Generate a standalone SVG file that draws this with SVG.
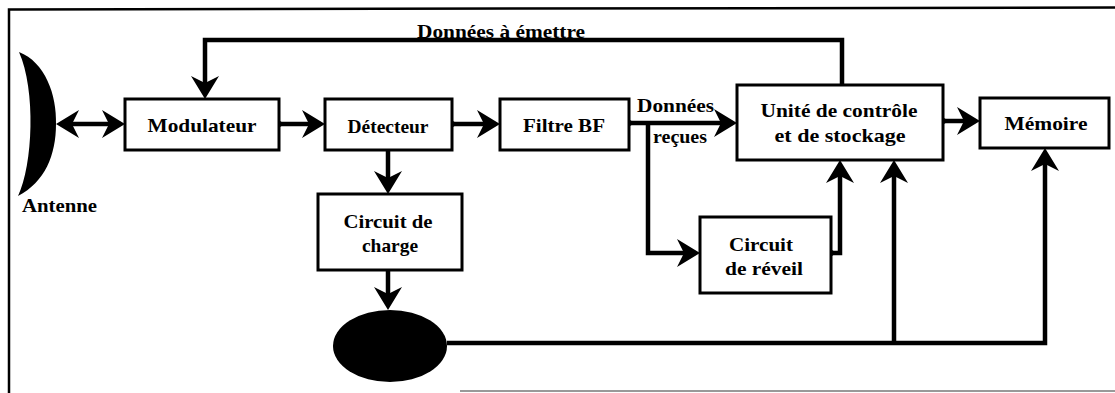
<svg xmlns="http://www.w3.org/2000/svg" width="1115" height="393" viewBox="0 0 1115 393">
  <style>
    .box { fill: #fff; stroke: #000; stroke-width: 3; }
    .wire { fill: none; stroke: #000; stroke-width: 4.5; stroke-linejoin: miter; }
    .arr { marker-end: url(#ah); }
    .lbl { font-family: "Liberation Serif", "Times New Roman", serif; font-size: 19.5px; font-weight: bold; fill: #000; text-anchor: middle; }
    .lbl-l { font-family: "Liberation Serif", "Times New Roman", serif; font-size: 19.5px; font-weight: bold; fill: #000; }
    .dot { fill: #000; }
  </style>
  <defs>
    <!-- dart-shaped arrowhead; the wire stops at the notch, the tip sits 16 px further on -->
    <marker id="ah" markerUnits="userSpaceOnUse" markerWidth="36" markerHeight="36" viewBox="-10 -18 36 36" refX="0" refY="0" orient="auto-start-reverse">
      <path d="M16,0 L-7,-14 L0,0 L-7,14 Z" fill="#000"/>
    </marker>
  </defs>

  <rect width="1115" height="393" fill="#fff"/>

  <!-- frame -->
  <g id="frame" fill="none" stroke="#000">
    <path d="M9,393 V9.5 L1115,7.5" stroke-width="2.5"/>
    <path d="M460,391 H1115" stroke="#999" stroke-width="2"/>
  </g>

  <!-- connectors -->
  <g id="connectors">
    <line class="wire" x1="72" y1="124" x2="109" y2="124" marker-start="url(#ah)" marker-end="url(#ah)"/>
    <line class="wire arr" x1="279" y1="124" x2="309" y2="124"/>
    <line class="wire arr" x1="452" y1="124" x2="484" y2="124"/>
    <line class="wire arr" x1="629" y1="123" x2="721" y2="123"/>
    <path class="wire arr" d="M648,123 V253 H684"/>
    <path class="wire arr" d="M831,253 H840 V176"/>
    <line class="wire arr" x1="943" y1="121" x2="964" y2="121"/>
    <path class="wire arr" d="M842,85 V40 H205 V83"/>
    <line class="wire arr" x1="388" y1="150" x2="388" y2="178"/>
    <line class="wire arr" x1="388" y1="270" x2="388" y2="294"/>
    <path class="wire arr" d="M447,343 H1045 V164"/>
    <line class="wire arr" x1="894" y1="343" x2="894" y2="176"/>
    <circle class="dot" cx="279" cy="124" r="3"/>
    <circle class="dot" cx="452" cy="124" r="3"/>
    <circle class="dot" cx="629" cy="123" r="3"/>
    <circle class="dot" cx="943" cy="121" r="3"/>
    <circle class="dot" cx="831" cy="253" r="3"/>
    <text class="lbl" x="501" y="38" textLength="168" lengthAdjust="spacingAndGlyphs">Données à émettre</text>
    <text class="lbl-l" x="637" y="112" textLength="77" lengthAdjust="spacingAndGlyphs">Données</text>
    <text class="lbl-l" x="653" y="143" textLength="54" lengthAdjust="spacingAndGlyphs">reçues</text>
  </g>

  <!-- antenna -->
  <g id="antenne">
    <path d="M19,52 C45,62 57,95 56,124 C56,155 45,182 18,196 C33,165 36,90 19,52 Z" fill="#000"/>
    <text class="lbl-l" x="22" y="212" textLength="75" lengthAdjust="spacingAndGlyphs">Antenne</text>
  </g>

  <g id="modulateur">
    <rect class="box" x="125" y="99" width="154" height="51"/>
    <text class="lbl" x="202" y="132" textLength="109" lengthAdjust="spacingAndGlyphs">Modulateur</text>
  </g>

  <g id="detecteur">
    <rect class="box" x="325" y="99" width="127" height="51"/>
    <text class="lbl" x="388" y="133" textLength="81" lengthAdjust="spacingAndGlyphs">Détecteur</text>
  </g>

  <g id="filtre-bf">
    <rect class="box" x="500" y="99" width="129" height="51"/>
    <text class="lbl" x="564" y="132" textLength="82" lengthAdjust="spacingAndGlyphs">Filtre BF</text>
  </g>

  <g id="unite-controle">
    <rect class="box" x="737" y="85" width="206" height="75"/>
    <text class="lbl" x="839" y="117" textLength="157" lengthAdjust="spacingAndGlyphs">Unité de contrôle</text>
    <text class="lbl" x="840" y="142" textLength="131" lengthAdjust="spacingAndGlyphs">et de stockage</text>
  </g>

  <g id="memoire">
    <rect class="box" x="980" y="98" width="129" height="50"/>
    <text class="lbl" x="1046" y="130" textLength="83" lengthAdjust="spacingAndGlyphs">Mémoire</text>
  </g>

  <g id="circuit-charge">
    <rect class="box" x="318" y="194" width="144" height="76"/>
    <text class="lbl" x="388" y="228" textLength="89" lengthAdjust="spacingAndGlyphs">Circuit de</text>
    <text class="lbl" x="390" y="252" textLength="56" lengthAdjust="spacingAndGlyphs">charge</text>
  </g>

  <g id="circuit-reveil">
    <rect class="box" x="700" y="217" width="131" height="76"/>
    <text class="lbl" x="761" y="251" textLength="64" lengthAdjust="spacingAndGlyphs">Circuit</text>
    <text class="lbl" x="764" y="275" textLength="78" lengthAdjust="spacingAndGlyphs">de réveil</text>
  </g>

  <g id="batterie">
    <ellipse cx="390" cy="346" rx="57" ry="36" fill="#000"/>
  </g>
</svg>
